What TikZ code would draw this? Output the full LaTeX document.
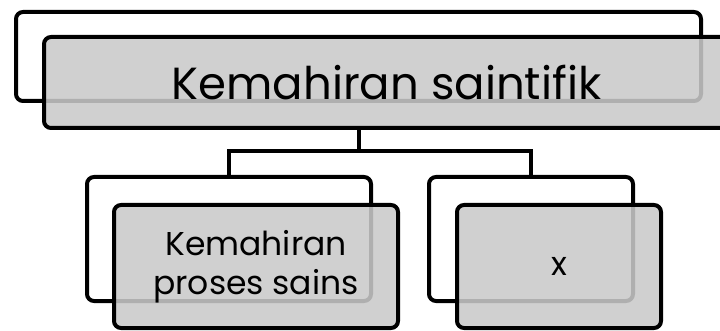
\documentclass[tikz,border=0pt]{standalone}
\usepackage{fontspec}
\setmainfont{Poppins}
\begin{document}
\begin{tikzpicture}[x=1pt, y=-1pt, line width=4pt,
    back/.style={draw, rounded corners=7pt, inner sep=0pt, anchor=north west},
    front/.style={back, fill=black!21, fill opacity=0.875, text opacity=1, align=center},
    link/.style={draw, line cap=rect}]
        \clip (0,0) rectangle (720,331);
        % back layer
        \node[back, minimum width=685pt, minimum height=89pt] (topback) at (14,10) {};
        \node[back, minimum width=284pt, minimum height=124pt] (leftback) at (85,175) {};
        \node[back, minimum width=204pt, minimum height=124pt] (rightback) at (427,175) {};
        % front layer
        \node[front, minimum width=685pt, minimum height=91pt, font=\fontsize{45}{52}\selectfont] (top) at (42,35) {Kemahiran saintifik};
        \node[front, minimum width=284pt, minimum height=123pt, font=\fontsize{33}{39}\selectfont] (left) at (112,203) {Kemahiran\\proses sains};
        \node[front, minimum width=204pt, minimum height=123pt, font=\fontsize{33}{39}\selectfont] (right) at (455,203) {x};
        % connectors
        \coordinate (split) at (topback.center |- 0,151);
        \draw[link] (top.south -| split) -- (split);
        \draw[link] (leftback.north) |- (split) -| (rightback.north);
\end{tikzpicture}
\end{document}
